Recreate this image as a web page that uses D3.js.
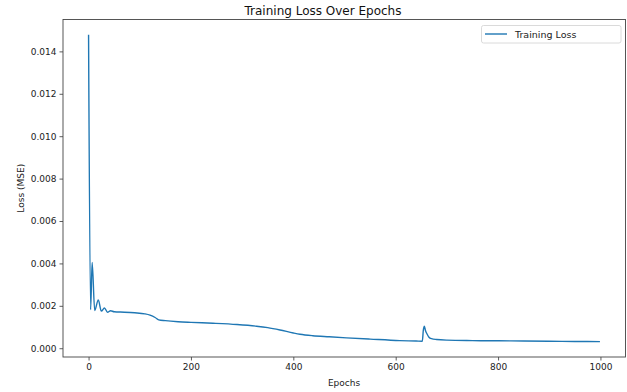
<!DOCTYPE html>
<html>
<head>
<meta charset="utf-8">
<script src="https://cdn.jsdelivr.net/npm/d3@7"></script>
<style>
  html, body { margin: 0; padding: 0; background: #fff; }
  svg { display: block; font-family: "DejaVu Sans", sans-serif; }
</style>
</head>
<body>
<svg id="chart" width="627" height="392"></svg>
<script>
const title = "Training Loss Over Epochs";
const xLabel = "Epochs";
const yLabel = "Loss (MSE)";
const seriesName = "Training Loss";

const epochs = [0, 4, 7, 12, 19, 25, 31, 37, 43, 50, 70, 90, 110, 120, 130, 137, 150, 175, 200, 243, 290, 328, 350, 374, 400, 413, 438, 470, 504, 550, 608, 640, 652, 654, 656, 658, 661, 665, 670, 680, 700, 750, 800, 850, 900, 950, 999];
const losses = [0.01478, 0.00182, 0.00405, 0.00178, 0.00228, 0.00175, 0.00190, 0.00170, 0.00177, 0.00172, 0.00170, 0.00167, 0.00162, 0.00156, 0.00145, 0.00134, 0.00130, 0.00125, 0.00122, 0.00118, 0.00112, 0.00104, 0.00097, 0.00086, 0.00072, 0.00066, 0.00059, 0.00054, 0.00049, 0.00043, 0.00036, 0.00034, 0.00033, 0.00085, 0.00104, 0.00085, 0.00068, 0.00052, 0.00045, 0.00041, 0.00038, 0.00036, 0.00035, 0.00034, 0.00033, 0.00032, 0.00031];

const xTicks = [0, 200, 400, 600, 800, 1000];
const yTicks = [0.000, 0.002, 0.004, 0.006, 0.008, 0.010, 0.012, 0.014];

const data = epochs.map((e, i) => ({ e, v: losses[i] }));

const svg = d3.select("#chart");
const plotL = 63, plotR = 625.5, plotT = 19.5, plotB = 357;

const xMin = d3.min(epochs), xMax = d3.max(epochs);
const xPad = (xMax - xMin) * 0.05;
const x = d3.scaleLinear().domain([xMin - xPad, xMax + xPad]).range([plotL, plotR]);

const yMin = d3.min(losses), yMax = d3.max(losses);
const yPad = (yMax - yMin) * 0.05;
const y = d3.scaleLinear().domain([yMin - yPad, yMax + yPad]).range([plotB, plotT]);

const fs = 9;

// x axis
const xAxis = svg.append("g").attr("transform", `translate(0,${plotB})`)
  .call(d3.axisBottom(x).tickValues(xTicks).tickFormat(d3.format("d")).tickSize(3.5).tickPadding(3));
xAxis.select(".domain").remove();
xAxis.selectAll("line").attr("stroke", "#333").attr("stroke-width", 0.8);
xAxis.selectAll("text").attr("font-size", fs).attr("fill", "#222").attr("font-family", "DejaVu Sans");

// y axis
const yAxis = svg.append("g").attr("transform", `translate(${plotL},0)`)
  .call(d3.axisLeft(y).tickValues(yTicks).tickFormat(d3.format(".3f")).tickSize(3.5).tickPadding(3));
yAxis.select(".domain").remove();
yAxis.selectAll("line").attr("stroke", "#333").attr("stroke-width", 0.8);
yAxis.selectAll("text").attr("font-size", fs).attr("fill", "#222").attr("font-family", "DejaVu Sans");

// line
const line = d3.line().x(d => x(d.e)).y(d => y(d.v)).curve(d3.curveMonotoneX);
svg.append("path").datum(data)
  .attr("d", line)
  .attr("fill", "none")
  .attr("stroke", "#1f77b4")
  .attr("stroke-width", 1.4)
  .attr("stroke-linejoin", "round");

// frame
svg.append("rect").attr("x", plotL).attr("y", plotT)
  .attr("width", plotR - plotL).attr("height", plotB - plotT)
  .attr("fill", "none").attr("stroke", "#444").attr("stroke-width", 0.9);

// title
svg.append("text").attr("x", 323).attr("y", 15)
  .attr("text-anchor", "middle").attr("font-size", 12).attr("fill", "#111")
  .text(title);

// axis labels
svg.append("text").attr("x", 344).attr("y", 386)
  .attr("text-anchor", "middle").attr("font-size", fs).attr("fill", "#222")
  .text(xLabel);
svg.append("text")
  .attr("transform", `translate(24,${(plotT + plotB) / 2}) rotate(-90)`)
  .attr("text-anchor", "middle").attr("font-size", fs).attr("fill", "#222")
  .text(yLabel);

// legend
const lg = svg.append("g");
lg.append("rect").attr("x", 481.5).attr("y", 25.5).attr("width", 139.5).attr("height", 17.5)
  .attr("rx", 2).attr("fill", "#fff").attr("fill-opacity", 0.8)
  .attr("stroke", "#d0d0d0").attr("stroke-width", 0.8);
lg.append("line").attr("x1", 485).attr("x2", 507).attr("y1", 34).attr("y2", 34)
  .attr("stroke", "#1f77b4").attr("stroke-width", 1.4);
lg.append("text").attr("x", 515).attr("y", 37.5).attr("font-size", 9.5).attr("fill", "#222")
  .text(seriesName);
</script>
</body>
</html>
